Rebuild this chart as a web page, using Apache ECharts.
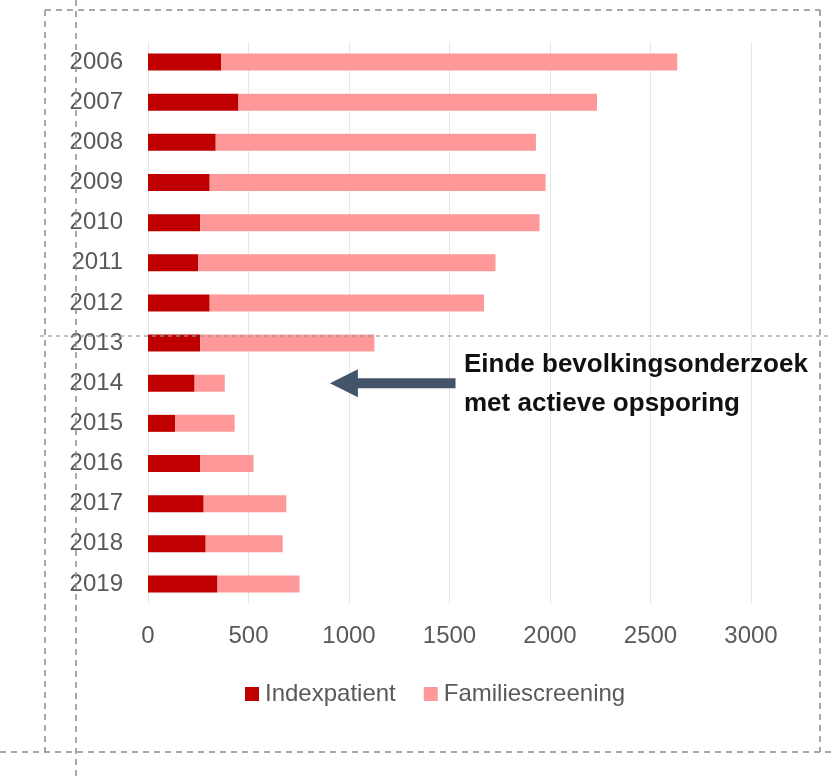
<!DOCTYPE html>
<html>
<head>
<meta charset="utf-8">
<script src="https://cdn.jsdelivr.net/npm/echarts@6/dist/echarts.min.js"></script>
<style>
  html, body { margin: 0; padding: 0; background: #fff; }
  #chart { width: 832px; height: 777px; }
</style>
</head>
<body>
<div id="chart"></div>
<script>
var years = ['2006', '2007', '2008', '2009', '2010', '2011', '2012', '2013', '2014', '2015', '2016', '2017', '2018', '2019'];
var indexPatient = [365, 450, 337, 307, 260, 250, 307, 260, 232, 136, 260, 277, 287, 346];
var familyScreening = [2268, 1784, 1593, 1671, 1688, 1479, 1365, 866, 150, 295, 265, 411, 383, 408];
var seriesNames = ['Indexpatient', 'Familiescreening'];
var annotationLines = ['Einde bevolkingsonderzoek', 'met actieve opsporing'];
// arrow runs from shaft end to tip, in data units, at this category
var arrowFrom = 1530, arrowTo = 905, arrowYear = '2014';

var chart = echarts.init(document.getElementById('chart'));
var labelFont = 'Liberation Sans, Arial, sans-serif';

var option = {
  animation: false,
  grid: { left: 148, right: 81, top: 42, bottom: 173, containLabel: false },
  legend: {
    data: seriesNames,
    left: 240,
    top: 677,
    itemWidth: 14,
    itemHeight: 14,
    itemGap: 28,
    icon: 'rect',
    textStyle: { fontFamily: labelFont, fontSize: 24, color: '#595959', padding: [0, 0, 0, 1] }
  },
  xAxis: {
    type: 'value',
    min: 0,
    max: 3000,
    interval: 500,
    axisLine: { show: false },
    axisTick: { show: false },
    splitLine: { lineStyle: { color: '#e6e6e6', width: 1 } },
    axisLabel: {
      fontFamily: labelFont, fontSize: 24, color: '#595959', margin: 20,
      formatter: function (v) { return String(v); }
    }
  },
  yAxis: {
    type: 'category',
    data: years,
    inverse: true,
    axisLine: { show: false },
    axisTick: { show: false },
    axisLabel: { fontFamily: labelFont, fontSize: 24, color: '#595959', margin: 25 }
  },
  series: [
    {
      name: seriesNames[0],
      type: 'bar',
      stack: 'total',
      barWidth: 17,
      data: indexPatient,
      itemStyle: { color: '#c00000' }
    },
    {
      name: seriesNames[1],
      type: 'bar',
      stack: 'total',
      barWidth: 17,
      data: familyScreening,
      itemStyle: { color: '#ff9999' }
    }
  ]
};
chart.setOption(option);

/*---- annotation arrow + dashed guides ----*/
var start = chart.convertToPixel({ gridIndex: 0 }, [arrowFrom, arrowYear]);
var tip = chart.convertToPixel({ gridIndex: 0 }, [arrowTo, arrowYear]);
var headLen = 28, headHalf = 14, shaftHalf = 5;
var arrowColor = '#44546a';
var dash = { stroke: '#8c8c8c', lineWidth: 1.5, lineDash: [6, 5] };
var fineDash = { stroke: '#9a9a9a', lineWidth: 1.2, lineDash: [4, 4] };
var noteFont = 'bold 26px ' + labelFont;

chart.setOption({
  graphic: [
    { type: 'rect', z: 100, shape: { x: tip[0] + headLen - 1, y: tip[1] - shaftHalf, width: start[0] - tip[0] - headLen + 1, height: shaftHalf * 2 }, style: { fill: arrowColor } },
    { type: 'polygon', z: 100, shape: { points: [[tip[0], tip[1]], [tip[0] + headLen, tip[1] - headHalf], [tip[0] + headLen, tip[1] + headHalf]] }, style: { fill: arrowColor } },
    { type: 'text', z: 100, x: 464, y: 365, style: { text: annotationLines[0], font: noteFont, fill: '#111', verticalAlign: 'middle' } },
    { type: 'text', z: 100, x: 464, y: 404, style: { text: annotationLines[1], font: noteFont, fill: '#111', verticalAlign: 'middle' } },
    // dashed frame
    { type: 'line', z: 90, shape: { x1: 45, y1: 10, x2: 820, y2: 10 }, style: dash },
    { type: 'line', z: 90, shape: { x1: 45, y1: 10, x2: 45, y2: 752 }, style: dash },
    { type: 'line', z: 90, shape: { x1: 820, y1: 10, x2: 820, y2: 752 }, style: dash },
    { type: 'line', z: 90, shape: { x1: 0, y1: 752, x2: 832, y2: 752 }, style: dash },
    { type: 'line', z: 90, shape: { x1: 76, y1: 0, x2: 76, y2: 777 }, style: dash },
    { type: 'line', z: 90, shape: { x1: 40, y1: 336, x2: 832, y2: 336 }, style: fineDash }
  ]
});
</script>
</body>
</html>
